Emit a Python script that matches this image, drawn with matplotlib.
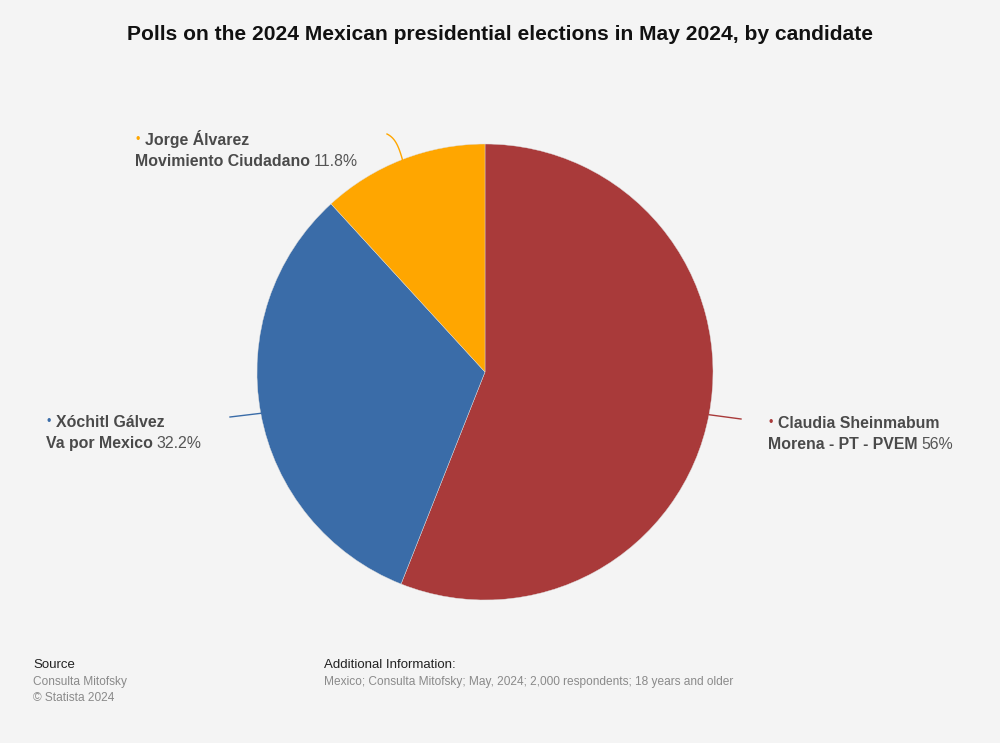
import matplotlib
matplotlib.use('Agg')
import matplotlib.pyplot as plt
import numpy as np

# Data
candidates = ['Claudia Sheinmabum', 'Xóchitl Gálvez', 'Jorge Álvarez']
parties = ['Morena - PT - PVEM', 'Va por Mexico', 'Movimiento Ciudadano']
shares = [56, 32.2, 11.8]
share_labels = ['56%', '32.2%', '11.8%']
colors = ['#a93a3a', '#3a6ca8', '#ffa600']

BG = '#f4f4f4'
TXT = '#4a4a4a'
plt.rcParams['font.family'] = ['Liberation Sans', 'DejaVu Sans']

fig = plt.figure(figsize=(10, 7.43), dpi=100, facecolor=BG)
W, H = 1000, 743

cx, cy, r = 485, 372, 228
ax = fig.add_axes([(cx - r) / W, (H - cy - r) / H, 2 * r / W, 2 * r / H])
ax.set_facecolor(BG)
wedges, _ = ax.pie(shares, colors=colors, startangle=90, counterclock=False,
                   radius=1, wedgeprops=dict(edgecolor='#dddddd', linewidth=0.3))
ax.set_xlim(-1, 1)
ax.set_ylim(-1, 1)
ax.set_aspect('auto')
ax.axis('off')

fig.text(0.5, 1 - 35 / H, 'Polls on the 2024 Mexican presidential elections in May 2024, by candidate',
         ha='center', va='center', fontsize=15.1, fontweight='bold', color='#111111')

# label anchors (baseline of first line) and leader line ends in pixel coords
label_pos = {0: (768, 428), 1: (46, 427), 2: (135, 145)}
line_ends = {0: (741, 419), 1: (230, 417), 2: (387, 134)}


def px(x, y):
    return x / W, 1 - y / H


fig.canvas.draw()
renderer = fig.canvas.get_renderer()

for i, w in enumerate(wedges):
    mid = np.deg2rad((w.theta1 + w.theta2) / 2)
    sx, sy = cx + r * np.cos(mid), cy - r * np.sin(mid)
    ex, ey = line_ends[i]
    if i == 2:
        xs = [sx, sx - 4, ex + 8, ex]
        ys = [sy, sy - 14, ey + 4, ey]
        t = np.linspace(0, 1, 30)
        bx = (1 - t) ** 3 * xs[0] + 3 * (1 - t) ** 2 * t * xs[1] + 3 * (1 - t) * t ** 2 * xs[2] + t ** 3 * xs[3]
        by = (1 - t) ** 3 * ys[0] + 3 * (1 - t) ** 2 * t * ys[1] + 3 * (1 - t) * t ** 2 * ys[2] + t ** 3 * ys[3]
    else:
        bx = [sx, ex]
        by = [sy, ey]
    fig.add_artist(plt.Line2D([x / W for x in bx], [1 - y / H for y in by],
                              color=colors[i], linewidth=1.0))

    lx, ly = label_pos[i]
    fig.text(*px(lx + 3, ly - 5), '•', ha='center', va='center', fontsize=9, color=colors[i])
    fig.text(*px(lx + 10, ly), candidates[i], ha='left', va='baseline',
             fontsize=11.4, fontweight='bold', color=TXT)
    t2 = fig.text(*px(lx, ly + 21), parties[i], ha='left', va='baseline',
                  fontsize=11.4, fontweight='bold', color=TXT)
    bb = t2.get_window_extent(renderer)
    fig.text(bb.x1 / W + 4 / W, 1 - (ly + 21) / H, share_labels[i], ha='left', va='baseline',
             fontsize=11.4, color='#555555')

# footer
fig.text(*px(33, 665), 'Source', ha='left', va='center', fontsize=9.5, color='#222222')
fig.text(*px(33, 682), 'Consulta Mitofsky', ha='left', va='center', fontsize=8.6, color='#8a8a8a')
fig.text(*px(33, 698), '© Statista 2024', ha='left', va='center', fontsize=8.6, color='#8a8a8a')
fig.text(*px(324, 665), 'Additional Information:', ha='left', va='center', fontsize=9.5, color='#222222')
fig.text(*px(324, 682), 'Mexico; Consulta Mitofsky; May, 2024; 2,000 respondents; 18 years and older',
         ha='left', va='center', fontsize=8.6, color='#8a8a8a')

fig.savefig('out.png', dpi=100, facecolor=BG)
